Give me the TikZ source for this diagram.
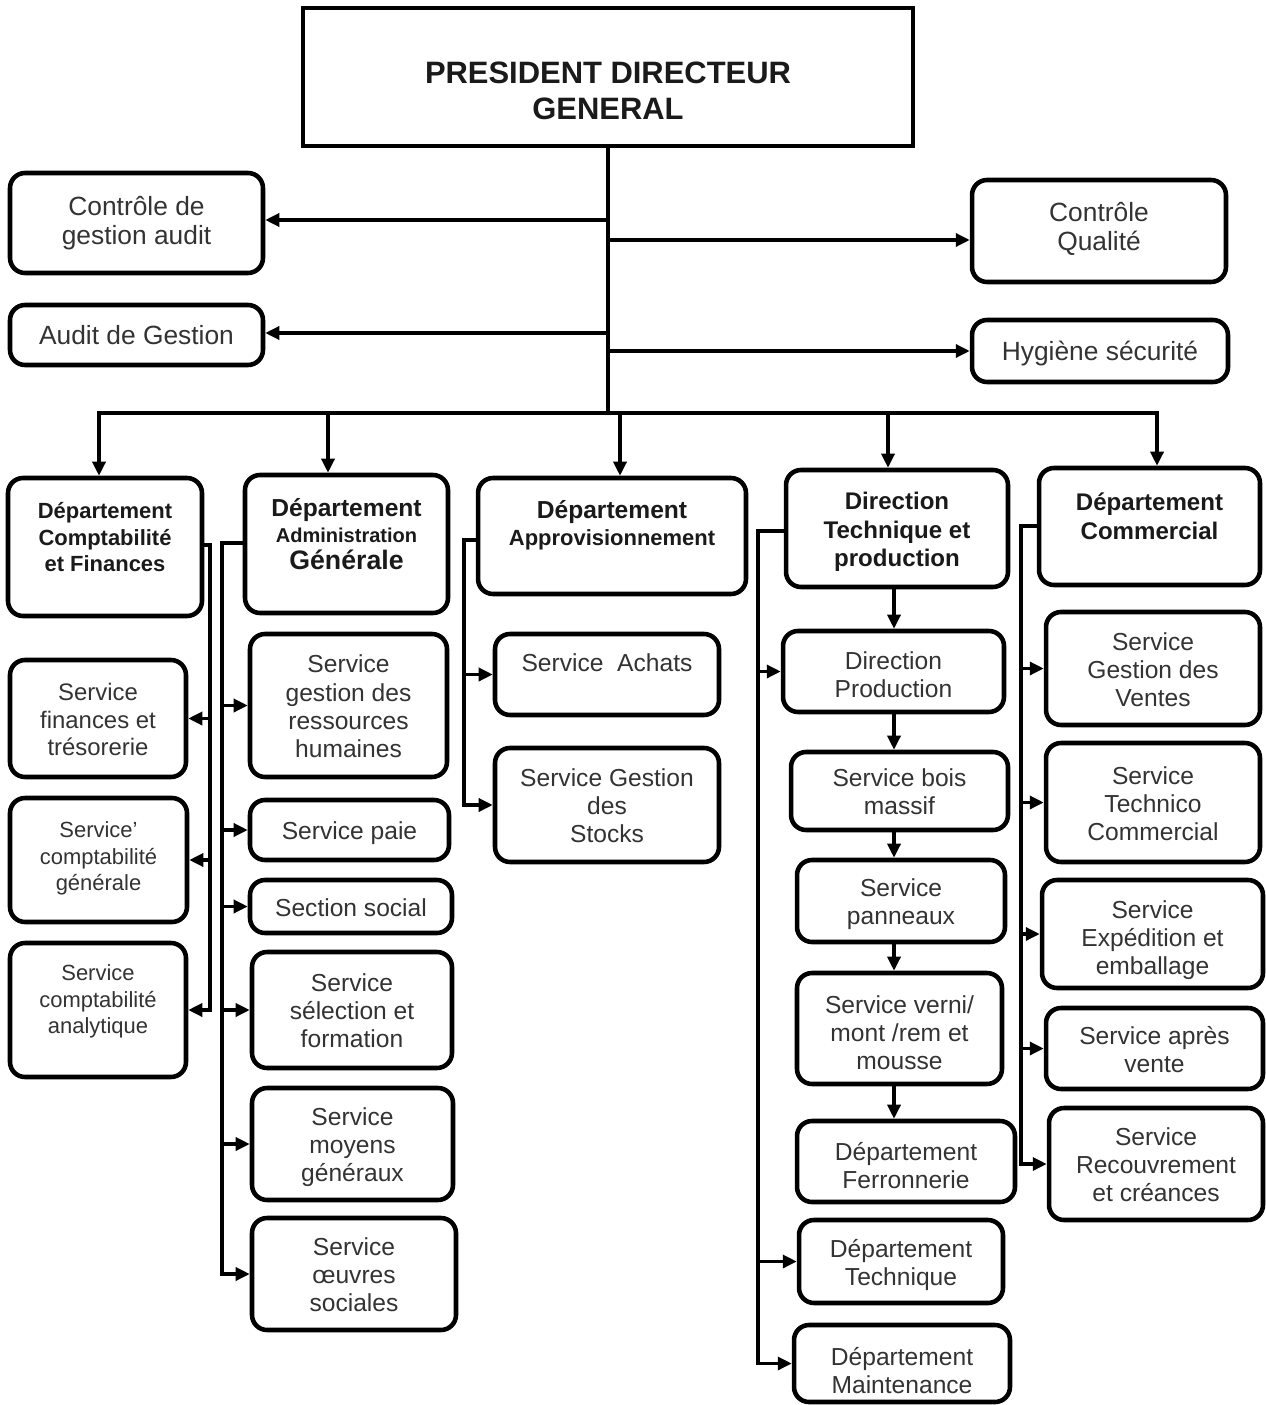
\documentclass[tikz,border=0pt]{standalone}
\usepackage{fontspec}
\setmainfont{Liberation Sans}
\usetikzlibrary{arrows.meta}
\definecolor{txt}{HTML}{333333}
\definecolor{dtxt}{HTML}{1A1A1A}
\newcommand\setfs[2]{\fontsize{#1}{#2}\selectfont}
\newcommand\boxtext[2][0pt]{\raisebox{\dimexpr#1-0.08cm\relax}[\height][\depth]{\begin{tabular}{@{}c@{}}#2\end{tabular}}}
\begin{document}
\begin{tikzpicture}[x=0.02cm,y=-0.02cm,
  box/.style={draw, line width=2.6pt, rounded corners=0.3cm, inner sep=0pt, fill=white, anchor=center},
  topbox/.style={draw, line width=2.6pt, inner sep=0pt, fill=white, anchor=center, text=dtxt, font=\bfseries\setfs{17.6}{20}},
  side/.style={box, text=txt, font=\setfs{15}{17}},
  dept/.style={box, text=dtxt, font=\bfseries\setfs{13.7}{16.2}},
  svc/.style={box, text=txt, font=\setfs{14}{16}},
  svcs/.style={box, text=txt, font=\setfs{12.5}{15}},
  sz/.style 2 args={minimum width=#1cm, minimum height=#2cm},
  conn/.style={line width=1.9pt},
  arr/.style={conn, -{Triangle[length=0.28cm,width=0.26cm]}}]
\fill[white] (0,0) rectangle (1266,1405);
\useasboundingbox (0,0) rectangle (1266,1405);

% top
\node[topbox, sz={12.2}{2.76}] (pdg) at (608,77) {\boxtext[-0.27cm]{PRESIDENT DIRECTEUR\\GENERAL}};

% side boxes
\node[side, sz={5.06}{2.0}] (cga) at (136.5,223) {\boxtext[0.06cm]{Contrôle de\\gestion audit}};
\node[side, sz={5.06}{1.2}] (ag) at (136.5,335) {\boxtext{Audit de Gestion}};
\node[side, sz={5.08}{2.04}] (cq) at (1099,231) {\boxtext[0.1cm]{Contrôle\\Qualité}};
\node[side, sz={5.12}{1.24}] (hs) at (1100,351) {\boxtext{Hygiène sécurité}};

% departments
\node[dept, font=\bfseries\setfs{12.5}{15}, sz={3.88}{2.76}] (d1) at (105,547) {\boxtext[0.22cm]{Département\\Comptabilité\\et Finances}};
\node[dept, font=\bfseries\setfs{13}{14.8}, sz={4.06}{2.76}] (d2) at (346.5,544) {\boxtext[0.2cm]{\setfs{14}{16}Département\\\setfs{11.4}{14}Administration\\\setfs{15.2}{17}Générale}};
\node[dept, font=\bfseries\setfs{13}{15.3}, sz={5.36}{2.32}] (d3) at (612,536) {\boxtext[0.26cm]{\setfs{14}{15.5}Département\\\setfs{12.5}{15}Approvisionnement}};
\node[dept, sz={4.44}{2.34}] (d4) at (897,528.5) {\boxtext{Direction\\Technique et\\production}};
\node[dept, font=\bfseries\setfs{13.7}{17}, sz={4.42}{2.34}] (d5) at (1149.5,526.5) {\boxtext[0.23cm]{Département\\Commercial}};

% column 1
\node[svc, font=\setfs{13.6}{15.8}, sz={3.52}{2.34}] (s11) at (98,718.5) {\boxtext{Service\\finances et\\trésorerie}};
\node[svcs, sz={3.54}{2.48}] (s12) at (98.5,860) {\boxtext[0.1cm]{Service’\\comptabilité\\générale}};
\node[svcs, sz={3.52}{2.68}] (s13) at (98,1010) {\boxtext[0.24cm]{Service\\comptabilité\\analytique}};

% column 2
\node[svc, sz={3.94}{2.86}] (s21) at (348.5,705.5) {\boxtext{Service\\gestion des\\ressources\\humaines}};
\node[svc, sz={3.98}{1.2}] (s22) at (349.5,830) {\boxtext{Service paie}};
\node[svc, sz={4.04}{1.06}] (s23) at (351,906.5) {\boxtext{Section social}};
\node[svc, sz={4.0}{2.32}] (s24) at (352,1010) {\boxtext{Service\\sélection et\\formation}};
\node[svc, sz={4.02}{2.24}] (s25) at (352.5,1144) {\boxtext{Service\\moyens\\généraux}};
\node[svc, sz={4.08}{2.24}] (s26) at (354,1274) {\boxtext{Service\\œuvres\\sociales}};

% column 3
\node[svc, sz={4.48}{1.62}] (s31) at (607,674.5) {\boxtext[0.25cm]{Service~~Achats}};
\node[svc, sz={4.48}{2.28}] (s32) at (607,805) {\boxtext{Service Gestion\\des\\Stocks}};

% column 4
\node[svc, sz={4.42}{1.62}] (s41) at (893.5,671.5) {\boxtext[-0.05cm]{Direction\\Production}};
\node[svc, sz={4.34}{1.56}] (s42) at (899.5,791) {\boxtext{Service bois\\massif}};
\node[svc, sz={4.16}{1.64}] (s43) at (901,901) {\boxtext{Service\\panneaux}};
\node[svc, sz={4.1}{2.22}] (s44) at (899.5,1028.5) {\boxtext[-0.06cm]{Service verni/\\mont /rem et\\mousse}};
\node[svc, sz={4.36}{1.62}] (s45) at (906,1161.5) {\boxtext[-0.06cm]{Département\\Ferronnerie}};
\node[svc, sz={4.08}{1.66}] (s46) at (901,1261.5) {\boxtext{Département\\Technique}};
\node[svc, sz={4.32}{1.54}] (s47) at (902,1363.5) {\boxtext[-0.12cm]{Département\\Maintenance}};

% column 5
\node[svc, sz={4.28}{2.26}] (s51) at (1153,668.5) {\boxtext{Service\\Gestion des\\Ventes}};
\node[svc, sz={4.28}{2.38}] (s52) at (1153,802.5) {\boxtext{Service\\Technico\\Commercial}};
\node[svc, sz={4.42}{2.16}] (s53) at (1152.5,934) {\boxtext[-0.06cm]{Service\\Expédition et\\emballage}};
\node[svc, sz={4.34}{1.62}] (s54) at (1154.5,1048.5) {\boxtext{Service après\\vente}};
\node[svc, sz={4.28}{2.24}] (s55) at (1156,1164) {\boxtext{Service\\Recouvrement\\et créances}};

% trunk and side arrows
\coordinate (bus) at (608,413);
\draw[conn] (pdg.south) -- (bus);
\coordinate (t1) at (608,220);
\coordinate (t2) at (608,333);
\coordinate (t3) at (608,240);
\coordinate (t4) at (608,351);
\draw[arr] (t1) -- (t1 -| cga.east);
\draw[arr] (t2) -- (t2 -| ag.east);
\draw[arr] (t3) -- (t3 -| cq.west);
\draw[arr] (t4) -- (t4 -| hs.west);

% bus
\coordinate (b1) at (99,413);
\coordinate (b2) at (328,413);
\coordinate (b3) at (620,413);
\coordinate (b4) at (888,413);
\coordinate (b5) at (1157,413);
\draw[arr] (bus) -- (b1) -- (b1 |- d1.north);
\draw[arr] (bus) -- (b5) -- (b5 |- d5.north);
\draw[arr] (b2) -- (b2 |- d2.north);
\draw[arr] (b3) -- (b3 |- d3.north);
\draw[arr] (b4) -- (b4 |- d4.north);

% dept 1
\coordinate (c1) at (210,545);
\draw[arr] (c1 -| d1.east) -- (c1) |- (s13.east);
\draw[arr] (c1 |- s11.east) -- (s11.east);
\draw[arr] (c1 |- s12.east) -- (s12.east);

% dept 2
\coordinate (c2) at (222,543);
\draw[arr] (c2 -| d2.west) -- (c2) |- (s26.west);
\foreach \n in {s21,s22,s23,s24,s25}
  \draw[arr] (c2 |- \n.west) -- (\n.west);

% dept 3
\coordinate (c3) at (464,540);
\draw[arr] (c3 -| d3.west) -- (c3) |- (s32.west);
\draw[arr] (c3 |- s31.west) -- (s31.west);

% dept 4
\coordinate (c4) at (758,531);
\draw[arr] (c4 -| d4.west) -- (c4) |- (s47.west);
\draw[arr] (c4 |- s41.west) -- (s41.west);
\draw[arr] (c4 |- s46.west) -- (s46.west);
\coordinate (cx) at (894,0);
\draw[arr] (cx |- d4.south) -- (cx |- s41.north);
\draw[arr] (cx |- s41.south) -- (cx |- s42.north);
\draw[arr] (cx |- s42.south) -- (cx |- s43.north);
\draw[arr] (cx |- s43.south) -- (cx |- s44.north);
\draw[arr] (cx |- s44.south) -- (cx |- s45.north);

% dept 5
\coordinate (c5) at (1021,526);
\draw[arr] (c5 -| d5.west) -- (c5) |- (s55.west);
\foreach \n in {s51,s52,s53,s54}
  \draw[arr] (c5 |- \n.west) -- (\n.west);
\end{tikzpicture}
\end{document}
